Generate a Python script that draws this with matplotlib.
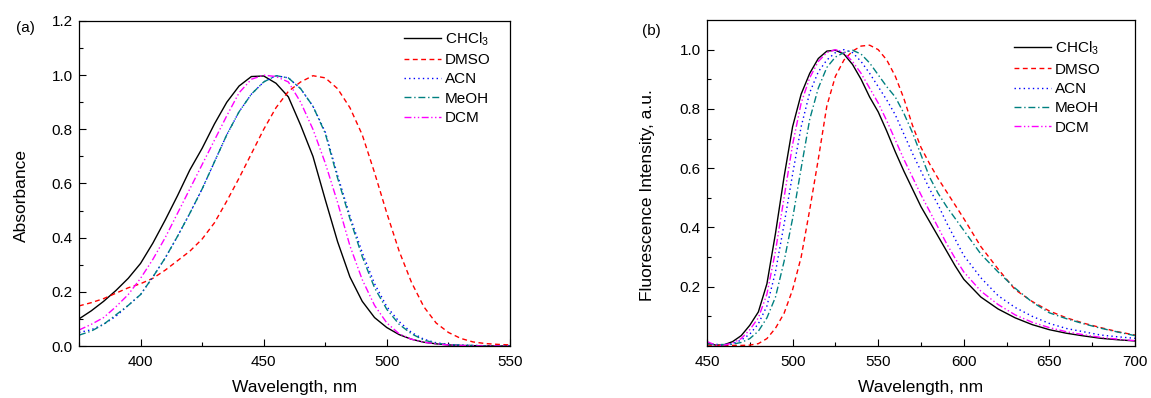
import matplotlib
matplotlib.use("Agg")
import matplotlib.pyplot as plt
from matplotlib.ticker import MultipleLocator, FixedLocator

plt.rcParams['font.family'] = ['Liberation Sans', 'DejaVu Sans']
plt.rcParams['mathtext.fontset'] = 'custom'
plt.rcParams['mathtext.rm'] = 'Liberation Sans'

# ---------------- data ----------------
solvents = ['CHCl$_\\mathregular{3}$', 'DMSO', 'ACN', 'MeOH', 'DCM']

abs_wl = [375, 380, 385, 390, 395, 400, 405, 410, 415, 420, 425, 430, 435, 440,
          445, 450, 455, 460, 465, 470, 475, 480, 485, 490, 495, 500, 505, 510,
          515, 520, 525, 530, 535, 540, 545, 550]
abs_chcl3 = [0.10, 0.13, 0.165, 0.205, 0.25, 0.305, 0.38, 0.465, 0.555, 0.65, 0.73, 0.82,
             0.90, 0.96, 0.995, 0.997, 0.97, 0.92, 0.815, 0.70, 0.54, 0.385, 0.255, 0.165,
             0.105, 0.068, 0.042, 0.025, 0.014, 0.008, 0.004, 0.002, 0.001, 0.0005, 0.0, 0.0]
abs_dmso = [0.148, 0.16, 0.175, 0.195, 0.215, 0.23, 0.25, 0.28, 0.315, 0.35, 0.395, 0.455,
            0.535, 0.62, 0.71, 0.80, 0.88, 0.94, 0.975, 0.998, 0.99, 0.95, 0.88, 0.78,
            0.64, 0.49, 0.35, 0.235, 0.145, 0.085, 0.05, 0.028, 0.015, 0.009, 0.006, 0.004]
abs_acn = [0.05, 0.06, 0.08, 0.11, 0.15, 0.19, 0.255, 0.325, 0.405, 0.49, 0.58, 0.68,
           0.78, 0.865, 0.93, 0.975, 0.998, 0.99, 0.95, 0.885, 0.79, 0.63, 0.48, 0.345,
           0.23, 0.145, 0.09, 0.05, 0.025, 0.012, 0.006, 0.003, 0.002, 0.001, 0.0, 0.0]
abs_meoh = [0.04, 0.055, 0.08, 0.115, 0.15, 0.19, 0.255, 0.325, 0.405, 0.49, 0.58, 0.68,
            0.78, 0.865, 0.93, 0.975, 0.998, 0.99, 0.95, 0.885, 0.785, 0.62, 0.47, 0.33,
            0.215, 0.135, 0.08, 0.045, 0.022, 0.01, 0.005, 0.003, 0.002, 0.001, 0.0, 0.0]
abs_dcm = [0.059, 0.08, 0.105, 0.145, 0.19, 0.25, 0.32, 0.40, 0.49, 0.58, 0.67, 0.76,
           0.85, 0.935, 0.985, 1.0, 0.995, 0.975, 0.90, 0.80, 0.675, 0.53, 0.37, 0.245,
           0.15, 0.085, 0.045, 0.025, 0.014, 0.008, 0.004, 0.002, 0.001, 0.0, 0.0, 0.0]

fl_wl = [450, 455, 460, 465, 470, 475, 480, 485, 490, 495, 500, 505, 510, 515, 520,
         525, 530, 535, 540, 545, 550, 555, 560, 565, 570, 575, 580, 585, 590, 595,
         600, 610, 620, 630, 640, 650, 660, 670, 680, 690, 700]
fl_chcl3 = [0.01, 0.003, 0.004, 0.015, 0.035, 0.07, 0.115, 0.21, 0.38, 0.57, 0.74, 0.85,
            0.92, 0.97, 0.995, 0.998, 0.985, 0.95, 0.90, 0.84, 0.79, 0.725, 0.655, 0.59,
            0.53, 0.47, 0.42, 0.37, 0.32, 0.27, 0.225, 0.165, 0.125, 0.095, 0.072, 0.055,
            0.043, 0.034, 0.026, 0.021, 0.017]
fl_dmso = [0.003, 0.002, 0.002, 0.002, 0.002, 0.003, 0.008, 0.025, 0.06, 0.11, 0.19, 0.30,
           0.46, 0.63, 0.81, 0.91, 0.965, 0.995, 1.012, 1.015, 1.0, 0.965, 0.91, 0.835,
           0.745, 0.67, 0.615, 0.565, 0.52, 0.475, 0.43, 0.335, 0.26, 0.19, 0.15, 0.118,
           0.095, 0.077, 0.062, 0.048, 0.037]
fl_acn = [0.005, 0.005, 0.004, 0.008, 0.02, 0.04, 0.075, 0.135, 0.25, 0.41, 0.58, 0.74,
          0.855, 0.925, 0.965, 0.99, 1.0, 0.99, 0.96, 0.92, 0.875, 0.83, 0.78, 0.715,
          0.65, 0.59, 0.53, 0.476, 0.415, 0.36, 0.305, 0.23, 0.17, 0.13, 0.10, 0.076,
          0.059, 0.048, 0.037, 0.031, 0.026]
fl_meoh = [0.008, 0.005, 0.005, 0.006, 0.012, 0.025, 0.05, 0.095, 0.165, 0.285, 0.43, 0.60,
           0.765, 0.87, 0.94, 0.975, 0.99, 0.998, 0.985, 0.955, 0.915, 0.875, 0.84, 0.785,
           0.72, 0.645, 0.57, 0.515, 0.47, 0.43, 0.39, 0.31, 0.25, 0.195, 0.148, 0.112,
           0.092, 0.075, 0.06, 0.047, 0.035]
fl_dcm = [0.015, 0.003, 0.003, 0.01, 0.025, 0.055, 0.095, 0.175, 0.32, 0.50, 0.68, 0.82,
          0.905, 0.96, 0.99, 1.0, 0.99, 0.96, 0.92, 0.87, 0.82, 0.76, 0.695, 0.63,
          0.57, 0.51, 0.455, 0.40, 0.345, 0.295, 0.25, 0.185, 0.14, 0.105, 0.08, 0.062,
          0.048, 0.038, 0.029, 0.023, 0.018]

abs_series = [abs_chcl3, abs_dmso, abs_acn, abs_meoh, abs_dcm]
fl_series = [fl_chcl3, fl_dmso, fl_acn, fl_meoh, fl_dcm]

colors = ['black', '#FF0000', '#0000FF', '#008080', '#FF00FF']
dashes = [None, (3.5, 2.5), (1, 2.3), (5, 2, 1, 2), (5, 1.8, 1, 1.8, 1, 1.8)]

# ---------------- figure ----------------
fig = plt.figure(figsize=(11.51, 3.98), dpi=100)
axa = fig.add_axes([79/1151, 1-346/398, 431/1151, 325/398])
axb = fig.add_axes([707/1151, 1-346/398, 428/1151, 326/398])


def draw(ax, x, series):
    for ys, lab, c, d in zip(series, solvents, colors, dashes):
        ln, = ax.plot(x, ys, color=c, lw=1.0, label=lab)
        if d is not None:
            ln.set_dashes(d)


draw(axa, abs_wl, abs_series)
draw(axb, fl_wl, fl_series)

for ax in (axa, axb):
    ax.tick_params(which='both', direction='in', top=False, right=False,
                   labelsize=11)
    ax.tick_params(axis='x', which='both', pad=6.5)
    ax.tick_params(axis='y', which='both', pad=4.5)
    ax.tick_params(which='major', length=5, width=0.8)
    ax.tick_params(which='minor', length=3, width=0.8)
    for s in ax.spines.values():
        s.set_linewidth(0.9)

axa.set_xlim(375, 550)
axa.set_ylim(0, 1.2)
axa.xaxis.set_major_locator(MultipleLocator(50))
axa.xaxis.set_minor_locator(MultipleLocator(25))
axa.yaxis.set_major_locator(MultipleLocator(0.2))
axa.yaxis.set_minor_locator(MultipleLocator(0.1))
axa.yaxis.set_major_formatter(plt.FormatStrFormatter('%.1f'))
axa.set_xlabel('Wavelength, nm', fontsize=12.5)
axa.set_ylabel('Absorbance', fontsize=12.5)
axa.xaxis.set_label_coords(0.5, -0.105)
axa.yaxis.set_label_coords(-0.117, 0.463)

axb.set_xlim(450, 700)
axb.set_ylim(0, 1.1)
axb.xaxis.set_major_locator(MultipleLocator(50))
axb.xaxis.set_minor_locator(MultipleLocator(25))
axb.yaxis.set_major_locator(FixedLocator([0.2, 0.4, 0.6, 0.8, 1.0]))
axb.yaxis.set_minor_locator(FixedLocator([0.1, 0.3, 0.5, 0.7, 0.9]))
axb.yaxis.set_major_formatter(plt.FormatStrFormatter('%.1f'))
axb.set_xlabel('Wavelength, nm', fontsize=12.5)
axb.set_ylabel('Fluorescence Intensity, a.u.', fontsize=12.5)
axb.xaxis.set_label_coords(0.5, -0.105)
axb.yaxis.set_label_coords(-0.122, 0.463)

leg_kw = dict(frameon=False, fontsize=11, handlelength=2.4, handletextpad=0.3,
              labelspacing=0.35, borderpad=0, borderaxespad=0, loc='upper left')
axa.legend(bbox_to_anchor=(0.754, 0.972), **leg_kw)
axb.legend(bbox_to_anchor=(0.717, 0.94), **leg_kw)

fig.text(25/1151, 1-28/398, '(a)', fontsize=11, ha='center', va='center')
fig.text(651/1151, 1-31/398, '(b)', fontsize=11, ha='center', va='center')

fig.savefig('out.png', dpi=100)
